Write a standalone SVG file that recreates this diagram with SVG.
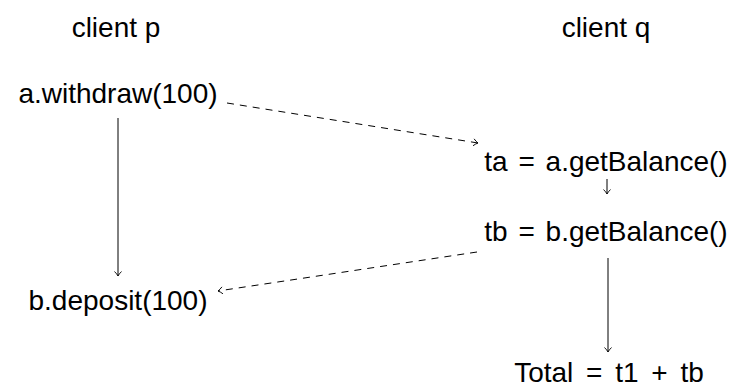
<svg xmlns="http://www.w3.org/2000/svg" width="738" height="389" viewBox="0 0 738 389">
<style>
text{font-family:"Liberation Sans",Arial,sans-serif;font-size:28px;fill:#000;text-anchor:middle}
.w{word-spacing:3px}
.t{word-spacing:5px}
.c line{stroke:#000;stroke-width:1;fill:none}
.d{stroke-dasharray:7 6}
</style>
<defs>
<marker id="a" markerUnits="userSpaceOnUse" markerWidth="10" markerHeight="10" refX="6" refY="5" orient="auto">
<path d="M1.5,1.5 Q4,4 6,5 Q4,6 1.5,8.5" fill="none" stroke="#000" stroke-width="0.9"/>
</marker>
</defs>
<rect width="738" height="389" fill="#fff"/>
<g id="clientp"><text x="116" y="37">client p</text></g>
<g id="clientq"><text x="606" y="37">client q</text></g>
<g id="withdraw"><text x="118" y="103">a.withdraw(100)</text></g>
<g id="ta"><text class="w" x="606" y="171">ta = a.getBalance()</text></g>
<g id="tb"><text class="w" x="606" y="241">tb = b.getBalance()</text></g>
<g id="deposit"><text x="118" y="310">b.deposit(100)</text></g>
<g id="total"><text class="t" x="609" y="382">Total = t1 + tb</text></g>
<g class="c" id="connectors">
<line x1="118" y1="118" x2="118" y2="276" marker-end="url(#a)"/>
<line class="d" x1="227" y1="103" x2="478" y2="143" marker-end="url(#a)"/>
<line class="d" x1="477" y1="252" x2="218" y2="291" marker-end="url(#a)"/>
<line x1="607" y1="179" x2="607" y2="194" marker-end="url(#a)"/>
<line x1="608" y1="258" x2="608" y2="352" marker-end="url(#a)"/>
</g>
</svg>
